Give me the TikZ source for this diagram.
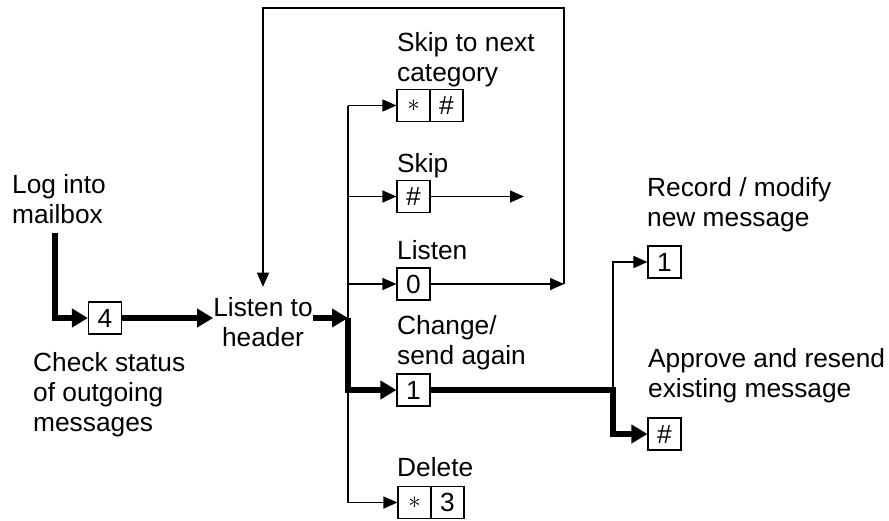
\documentclass[tikz,border=0pt]{standalone}
\usepackage{fontspec}
\setmainfont{Liberation Sans}
\usetikzlibrary{arrows.meta}
\begin{document}
\begin{tikzpicture}[x=1pt,y=-1pt,
  lbl/.style={anchor=base west, inner sep=0pt, align=left, font=\fontsize{26.3}{30.2}\selectfont},
  key/.style={draw, line width=1.1pt, minimum width=33pt, minimum height=32pt, inner sep=0pt, font=\fontsize{26.3}{30.2}\selectfont},
  thinln/.style={line width=1.4pt},
  thinar/.style={line width=1.4pt, -{Triangle[length=14pt,width=12pt]}},
  thickar/.style={line width=5.5pt, -{Triangle[length=16pt,width=18pt]}},
]
\useasboundingbox (0,0) rectangle (889,520);
\newcommand{\astk}{$\ast$}

% labels (base = baseline of the last line)
\node[lbl] (login) at (12,223.2) {Log into\\mailbox};
\node[lbl] (check) at (33,431.4) {Check status\\of outgoing\\messages};
\node[lbl, anchor=base, align=center, inner ysep=10pt] (hdr) at (263,346.2) {Listen to\\header};
\node[lbl] (skipcatl) at (397,81.2) {Skip to next\\category};
\node[lbl] (skipl) at (397,172) {Skip};
\node[lbl] (listenl) at (397,259) {Listen};
\node[lbl] (changel) at (397,364.2) {Change/\\send again};
\node[lbl] (deletel) at (397,476) {Delete};
\node[lbl] (recl) at (647,226.2) {Record / modify\\new message};
\node[lbl] (appl) at (648,397.2) {Approve and resend\\existing message};

% keys
\node[key] (k4) at (105,318) {4};
\node[key] (sc) at (413.5,105.5) {\astk};
\node[key] (sh) at (446.5,105.5) {\#};
\node[key] (sk) at (413.5,196.5) {\#};
\node[key] (l0) at (413.5,284) {0};
\node[key] (c1) at (413.5,390) {1};
\node[key] (ds) at (414.5,502.5) {\astk};
\node[key] (d3) at (447.5,502.5) {3};
\node[key] (r1) at (664.5,262) {1};
\node[key] (ap) at (664.5,434) {\#};

% coordinates
\coordinate (lstart) at (55,233);
\coordinate (bx) at (348,320);
\coordinate (skend) at (524,0);
\coordinate (fbx) at (564,0);
\coordinate (fbtop) at (0,8);
\coordinate (rx) at (613,0);

% connectors
\draw[thickar] (lstart) |- (k4.west);
\draw[thickar] (k4.east) -- (k4.east -| hdr.west);
\draw[thickar] (k4.east -| hdr.east) -- (k4.east -| bx);
\draw[thinln] (bx |- sc.west) -- (bx |- ds.west);
\draw[thickar] (k4.east -| bx) |- (c1.west);
\draw[thinar] (bx |- sc.west) -- (sc.west);
\draw[thinar] (bx |- sk.west) -- (sk.west);
\draw[thinar] (bx |- l0.west) -- (l0.west);
\draw[thinar] (bx |- ds.west) -- (ds.west);
\draw[thinar] (sk.east) -- (sk.east -| skend);
\draw[thinar] (l0.east) -- (l0.east -| fbx);
\draw[thinar] (l0.east -| fbx) -- (fbx |- fbtop) -| (hdr.north);
\draw[thinar] (c1.east -| rx) |- (r1.west);
\draw[thickar] (c1.east) -- (c1.east -| rx) |- (ap.west);
\end{tikzpicture}
\end{document}
